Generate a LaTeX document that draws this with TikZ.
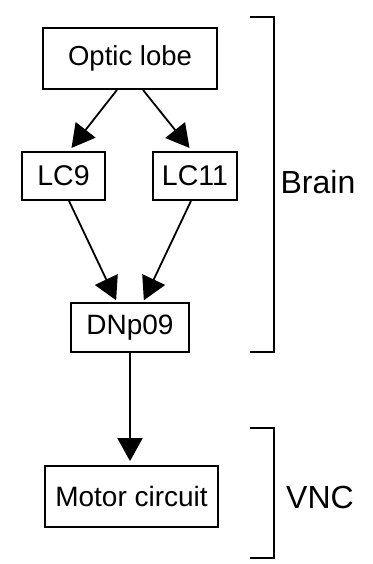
\documentclass[tikz,border=0pt]{standalone}
\usepackage{fontspec}
\setmainfont{Liberation Sans}
\usetikzlibrary{arrows.meta}
\begin{document}
\begin{tikzpicture}[x=1pt,y=-1pt,
  box/.style={draw,line width=1.8pt,inner sep=0pt,minimum width=#1,anchor=center},
  conn/.style={line width=1.8pt,-{Triangle[length=23pt 0 0,width=25pt 0 0]}},
  brack/.style={line width=1.8pt},
  lbl/.style={font=\fontsize{32}{36}\selectfont}]
\fill[white] (0,0) rectangle (372,564);
\useasboundingbox (0,0) rectangle (372,564);
\node[box=174pt,minimum height=61pt,font=\fontsize{27.5}{32}\selectfont] (optic) at (130,58.5) {Optic lobe};
\node[box=83pt,minimum height=48pt,font=\fontsize{28.5}{32}\selectfont] (lc9) at (63.5,176) {LC9};
\node[box=84pt,minimum height=48pt,font=\fontsize{28.5}{32}\selectfont] (lc11) at (195,176) {LC11};
\node[box=118pt,minimum height=49pt,font=\fontsize{28}{32}\selectfont] (dnp) at (130,327.5) {DNp09};
\node[box=173pt,minimum height=61pt,font=\fontsize{28}{32}\selectfont] (motor) at (131.5,496.5) {Motor circuit};
\draw[conn,shorten >=4pt] ([xshift=-13pt]optic.south) -- ([xshift=5.5pt]lc9.north);
\draw[conn,shorten >=4pt] ([xshift=13pt]optic.south) -- ([xshift=-3pt]lc11.north);
\draw[conn,shorten >=2pt] ([xshift=5.5pt]lc9.south) -- ([xshift=-13pt]dnp.north);
\draw[conn,shorten >=2pt] ([xshift=-4pt]lc11.south) -- ([xshift=13pt]dnp.north);
\draw[conn,shorten >=4pt] (dnp.south) -- (dnp.south |- motor.north);
\draw[brack] (250,17) -- (274,17) -- (274,352) -- (250,352);
\draw[brack] (250,428) -- (274,428) -- (274,558) -- (250,558);
\node[lbl] (brain) at (318,182) {Brain};
\node[lbl] (vnc) at (320,497) {VNC};
\end{tikzpicture}
\end{document}
